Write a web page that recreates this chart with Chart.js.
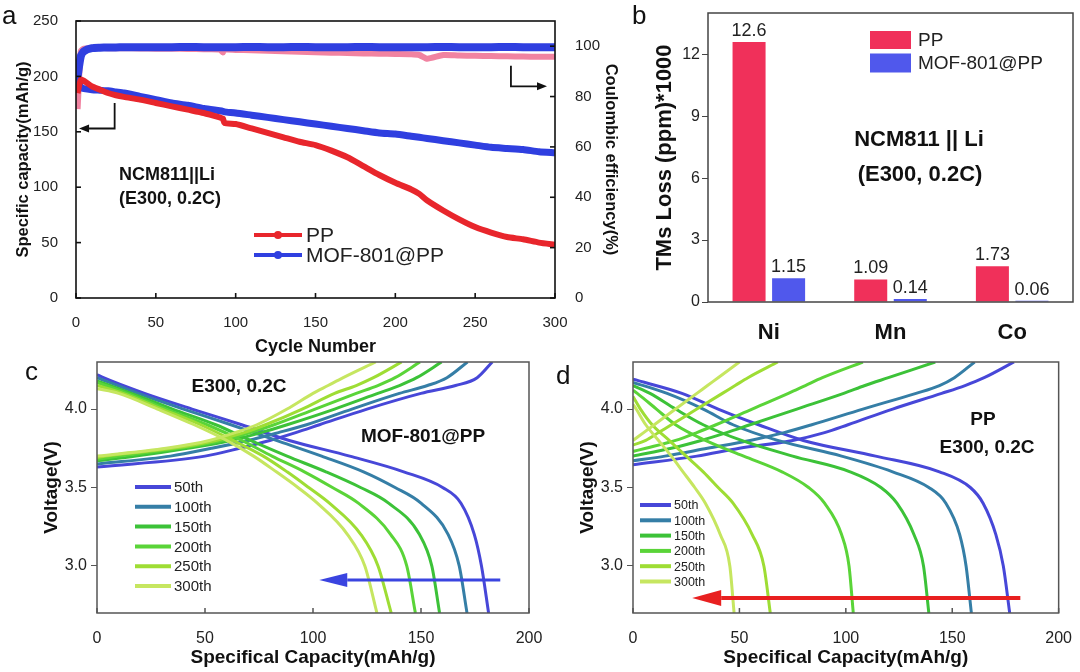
<!DOCTYPE html>
<html>
<head>
<meta charset="utf-8">
<script src="https://cdn.jsdelivr.net/npm/chart.js@4.4.1/dist/chart.umd.min.js"></script>
<style>
body { margin: 0; width: 1080px; height: 672px; background: #fff; position: relative; overflow: hidden; font-family: "Liberation Sans", Arial, sans-serif; }
canvas { position: absolute; }
.tag { position: absolute; font-size: 26px; color: #111; line-height: 1; }
</style>
</head>
<body>
<canvas id="chartA" width="620" height="360" style="left:0;top:0"></canvas>
<canvas id="chartB" width="460" height="340" style="left:620px;top:0"></canvas>
<canvas id="chartC" width="560" height="332" style="left:0;top:340px"></canvas>
<canvas id="chartD" width="520" height="332" style="left:560px;top:340px"></canvas>
<div class="tag" style="left:2px;top:2px">a</div>
<div class="tag" style="left:632px;top:2px">b</div>
<div class="tag" style="left:25px;top:358px">c</div>
<div class="tag" style="left:556px;top:362px">d</div>
<script>
//Panel a - cycling data
const cycles = [1, 3, 5, 10, 15, 20, 25, 30, 40, 50, 60, 70, 80, 90, 92, 93, 100, 110, 120, 130, 140, 150, 160, 170, 180, 190, 200, 210, 215, 220, 230, 240, 250, 260, 270, 280, 290, 300];
const ppCapacity = [185, 197, 196, 191, 188, 185, 183, 181.5, 179, 176, 173, 170, 167, 163, 162, 158, 157, 153, 149, 145, 141, 138, 133, 127, 119, 111, 104, 98, 94, 88, 79, 71, 64, 59, 55, 53, 50, 48];
const mofCapacity = [200, 190, 189, 188, 187.5, 187, 186, 185, 182, 179, 176, 174, 171, 169, 168.5, 168, 167, 165, 163, 161, 159, 157, 155, 153, 151, 149, 148, 146, 145, 144, 142, 140, 138, 136, 135, 134, 132, 131];
const ppEfficiency = [75, 98, 99, 99.3, 99.3, 99.2, 99.2, 99.2, 99.1, 99, 99, 98.9, 98.8, 98.7, 97.5, 98.6, 98.5, 98.4, 98.2, 98, 97.8, 97.6, 97.4, 97.3, 97.1, 97, 96.9, 96.8, 96.5, 95, 96.5, 96.3, 96.2, 96.1, 96, 95.9, 95.8, 95.8];
const mofEfficiency = [88, 96, 98, 99.2, 99.4, 99.5, 99.5, 99.6, 99.6, 99.6, 99.6, 99.7, 99.6, 99.6, 99.6, 99.6, 99.6, 99.7, 99.6, 99.6, 99.7, 99.6, 99.6, 99.6, 99.7, 99.6, 99.6, 99.6, 99.6, 99.6, 99.7, 99.6, 99.6, 99.6, 99.7, 99.6, 99.6, 99.6];

//Panel b - transition metal loss
const metals = ['Ni', 'Mn', 'Co'];
const ppLoss = [12.6, 1.09, 1.73];
const mofLoss = [1.15, 0.14, 0.06];

//Panels c and d - voltage profiles, capacity (mAh/g) at each voltage level
const cycleLabels = ['50th', '100th', '150th', '200th', '250th', '300th'];
const dischargeLevels = [4.2, 4.1, 4.0, 3.9, 3.8, 3.7, 3.6, 3.5, 3.4, 3.2, 3.0, 2.7];
const chargeLevels = [3.7, 3.75, 3.8, 3.85, 3.9, 4.0, 4.1, 4.15, 4.2, 4.3];

const mofDisStart = [4.22, 4.20, 4.18, 4.17, 4.15, 4.13];
const mofDis50 = [3, 22, 44, 67, 89, 117, 142, 160, 168.5, 174.7, 178, 181.3];
const mofDis100 = [null, 19, 40, 62, 83, 104, 123.4, 138, 150, 162.6, 167.7, 171.3];
const mofDis150 = [null, 16, 35, 55, 71, 88, 106, 122, 135, 149.3, 155, 158.6];
const mofDis200 = [null, 14, 32, 51, 67, 81, 96, 109, 121, 136, 143.4, 147.4];
const mofDis250 = [null, 12, 30, 48, 63, 77, 88, 98, 107.6, 122.2, 130.1, 136.2];
const mofDis300 = [null, 10, 28, 45, 60, 72.5, 83, 93, 102, 116, 124, 129.6];
const mofChgStart = [3.63, 3.65, 3.67, 3.68, 3.69, 3.70];
const mofChg50 = [50, 66, 80, 92, 103, 125, 150, 166, 176, 183];
const mofChg100 = [34, 53, 70, 84, 97, 118, 140, 153, 162, 171.5];
const mofChg150 = [18, 42, 62, 76, 88, 110, 130, 140, 148, 159.5];
const mofChg200 = [10, 38, 58, 71, 82, 101, 120, 130, 138, 149.5];
const mofChg250 = [4, 35, 55, 68, 78, 95, 110, 120, 128, 141];
const mofChg300 = [null, 32, 52, 64, 74, 88, 100, 107, 114, 129];

const ppDisStart = [4.19, 4.17, 4.15, 4.12, 4.08, 4.03];
const ppDis50 = [null, 23, 40, 59, 80, 114, 144, 158.5, 164.5, 170.5, 174, 177];
const ppDis100 = [null, 16, 33, 47, 68, 98, 122, 139, 147, 153.5, 156.5, 159];
const ppDis150 = [null, 8, 20, 33, 51, 75, 102, 116.5, 124, 132, 136.5, 139];
const ppDis200 = [null, 2, 11, 20, 34, 52, 70, 82.5, 90, 98, 101.5, 103.5];
const ppDis250 = [null, null, 3.5, 9, 17, 25, 33, 40, 47, 56, 61.5, 64.5];
const ppDis300 = [null, null, 1.5, 6, 12, 18, 23.5, 29, 34, 41, 45.5, 47.5];
const ppChgStart = [3.645, 3.67, 3.70, 3.73, 3.77, 3.80];
const ppChg50 = [30, 50, 75, 90, 101, 122, 145, 156, 165, 179];
const ppChg100 = [15, 35, 55, 71, 84, 108, 133, 144, 151, 160.5];
const ppChg150 = [null, 18, 32, 44, 55, 77, 99, 109, 120, 142];
const ppChg200 = [null, 6, 20, 30, 39, 56, 73, 81, 89, 108];
const ppChg250 = [null, null, 6, 12, 18, 30, 42, 48, 54, 68];
const ppChg300 = [null, null, null, 5, 10, 20, 30, 35, 40, 50];

const cycleColors = ['#4747d8', '#357ea6', '#3cc238', '#5ad438', '#9edd34', '#c6e660'];
const FONT = '"Liberation Sans", Arial, sans-serif';

Chart.defaults.font.family = FONT;
Chart.defaults.color = '#222';
Chart.defaults.animation = false;

//x/y pairs for a line
const pairs = (xs, ys) => xs.map((x, i) => ({ x: x, y: ys[i] }));

//voltage curve: starts at 0 capacity, then one point per voltage level
function curve(startV, levels, caps) {
    const pts = [{ x: 0, y: startV }];
    levels.forEach((v, i) => {
        if (caps[i] != null) pts.push({ x: caps[i], y: v });
    });
    return pts;
}

//box round the plot + inward tick marks
const frame = {
    id: 'frame',
    afterDatasetsDraw(chart, args, opts) {
        const { ctx, chartArea: a } = chart;
        ctx.save();
        ctx.strokeStyle = opts.color || '#111';
        ctx.lineWidth = opts.width || 1.5;
        ctx.strokeRect(a.left, a.top, a.right - a.left, a.bottom - a.top);
        (opts.inner || []).forEach(id => {
            const s = chart.scales[id];
            s.ticks.forEach((t, i) => {
                const p = s.getPixelForTick(i);
                ctx.beginPath();
                if (s.isHorizontal()) { ctx.moveTo(p, a.bottom); ctx.lineTo(p, a.bottom - 5); }
                else if (s.position === 'left') { ctx.moveTo(a.left, p); ctx.lineTo(a.left + 5, p); }
                else { ctx.moveTo(a.right, p); ctx.lineTo(a.right - 5, p); }
                ctx.stroke();
            });
        });
        ctx.restore();
    }
};

//texts, legends, arrows and bar labels
const notes = {
    id: 'notes',
    afterDraw(chart, args, opts) {
        const ctx = chart.ctx;
        ctx.save();
        ctx.textBaseline = 'middle';
        (opts.texts || []).forEach(t => {
            ctx.font = t.font;
            ctx.fillStyle = t.color || '#111';
            ctx.textAlign = t.align || 'center';
            ctx.fillText(t.text, t.x, t.y);
        });
        (opts.legend || []).forEach(l => {
            ctx.strokeStyle = l.color;
            ctx.fillStyle = l.color;
            if (l.box) {
                ctx.fillRect(l.x1, l.y - l.box / 2, l.x2 - l.x1, l.box);
            } else {
                ctx.lineWidth = l.width || 3;
                ctx.beginPath();
                ctx.moveTo(l.x1, l.y);
                ctx.lineTo(l.x2, l.y);
                ctx.stroke();
                if (l.marker) {
                    ctx.beginPath();
                    ctx.arc((l.x1 + l.x2) / 2, l.y, l.marker, 0, Math.PI * 2);
                    ctx.fill();
                }
            }
            ctx.font = l.font;
            ctx.fillStyle = '#222';
            ctx.textAlign = 'left';
            ctx.fillText(l.text, l.x2 + (l.gap || 4), l.y + 1);
        });
        (opts.arrows || []).forEach(ar => {
            const sx = chart.scales[ar.x || 'x'], sy = chart.scales[ar.y || 'y'];
            const p = ar.pts.map(q => [sx.getPixelForValue(q[0]), sy.getPixelForValue(q[1])]);
            const tip = p[p.length - 1], prev = p[p.length - 2];
            const len = Math.hypot(tip[0] - prev[0], tip[1] - prev[1]);
            const dx = (tip[0] - prev[0]) / len, dy = (tip[1] - prev[1]) / len;
            const base = [tip[0] - dx * ar.head, tip[1] - dy * ar.head];
            ctx.strokeStyle = ar.color;
            ctx.fillStyle = ar.color;
            ctx.lineWidth = ar.width;
            ctx.beginPath();
            p.slice(0, -1).forEach((q, i) => i ? ctx.lineTo(q[0], q[1]) : ctx.moveTo(q[0], q[1]));
            ctx.lineTo(base[0], base[1]);
            ctx.stroke();
            ctx.beginPath();
            ctx.moveTo(tip[0], tip[1]);
            ctx.lineTo(base[0] - dy * ar.half, base[1] + dx * ar.half);
            ctx.lineTo(base[0] + dy * ar.half, base[1] - dx * ar.half);
            ctx.closePath();
            ctx.fill();
        });
        if (opts.barLabels) {
            ctx.font = opts.barLabels;
            ctx.fillStyle = '#222';
            ctx.textAlign = 'center';
            ctx.textBaseline = 'bottom';
            chart.data.datasets.forEach((ds, i) => {
                chart.getDatasetMeta(i).data.forEach((bar, j) => {
                    ctx.fillText(String(ds.data[j]), bar.x, bar.y - 2);
                });
            });
        }
        ctx.restore();
    }
};

//Panel a
new Chart(document.getElementById('chartA'), {
    type: 'line',
    data: {
        datasets: [
            { label: 'PP', data: pairs(cycles, ppCapacity), yAxisID: 'y', borderColor: '#e8262c', borderWidth: 6, pointRadius: 0, tension: 0.2, order: 1 },
            { label: 'MOF-801@PP', data: pairs(cycles, mofCapacity), yAxisID: 'y', borderColor: '#2f3fe0', borderWidth: 7, pointRadius: 0, tension: 0.2, order: 2 },
            { label: 'PP CE', data: pairs(cycles, ppEfficiency), yAxisID: 'y2', borderColor: 'rgba(236,90,130,0.75)', borderWidth: 6, pointRadius: 0, tension: 0.2, order: 4 },
            { label: 'MOF-801@PP CE', data: pairs(cycles, mofEfficiency), yAxisID: 'y2', borderColor: '#2f3fe0', borderWidth: 8, pointRadius: 0, tension: 0.2, order: 3 }
        ]
    },
    options: {
        responsive: false,
        layout: { padding: { top: 14 } },
        plugins: {
            legend: { display: false },
            tooltip: { enabled: false },
            frame: { color: '#111', width: 1.6, inner: ['x', 'y', 'y2'] },
            notes: {
                texts: [
                    { text: 'NCM811||Li', x: 119, y: 175, font: 'bold 18px ' + FONT, align: 'left' },
                    { text: '(E300, 0.2C)', x: 119, y: 199, font: 'bold 18px ' + FONT, align: 'left' }
                ],
                legend: [
                    { x1: 254, x2: 302, y: 235, color: '#e8262c', width: 4, marker: 4, text: 'PP', font: '21px ' + FONT },
                    { x1: 254, x2: 302, y: 255, color: '#2f3fe0', width: 4, marker: 4, text: 'MOF-801@PP', font: '21px ' + FONT }
                ],
                arrows: [
                    { pts: [[24.2, 176], [24.2, 153], [1.9, 153]], color: '#111', width: 1.8, head: 10, half: 4 },
                    { pts: [[272.4, 209.5], [272.4, 191], [295, 191]], color: '#111', width: 1.8, head: 10, half: 4 }
                ]
            }
        },
        scales: {
            x: {
                type: 'linear', min: 0, max: 300,
                ticks: { stepSize: 50, padding: 8, font: { size: 15 } },
                grid: { display: false }, border: { display: false },
                title: { display: true, text: 'Cycle Number', font: { size: 18, weight: 'bold' }, color: '#111', padding: { bottom: 2 } },
                afterFit: s => { s.height = 62; }
            },
            y: {
                position: 'left', min: 0, max: 250,
                ticks: { stepSize: 50, padding: 10, font: { size: 15 } },
                grid: { display: false }, border: { display: false },
                title: { display: true, text: 'Specific capacity(mAh/g)', font: { size: 16.5, weight: 'bold' }, color: '#111', padding: { top: 14 } },
                afterFit: s => { s.width = 76; }
            },
            y2: {
                position: 'right', min: 0, max: 110,
                ticks: { stepSize: 20, includeBounds: false, padding: 12, font: { size: 15 } },
                grid: { display: false }, border: { display: false },
                title: { display: true, text: 'Coulombic efficiency(%)', font: { size: 16.5, weight: 'bold' }, color: '#111', padding: { top: 0 } },
                afterFit: s => { s.width = 65; }
            }
        }
    },
    plugins: [frame, notes]
});

//Panel b
new Chart(document.getElementById('chartB'), {
    type: 'bar',
    data: {
        labels: metals,
        datasets: [
            { label: 'PP', data: ppLoss, backgroundColor: '#f0305a' },
            { label: 'MOF-801@PP', data: mofLoss, backgroundColor: '#5058ec' }
        ]
    },
    options: {
        responsive: false,
        categoryPercentage: 0.65,
        barPercentage: 0.835,
        layout: { padding: { top: 13, right: 7 } },
        plugins: {
            legend: { display: false },
            tooltip: { enabled: false },
            frame: { color: '#444', width: 1.5 },
            notes: {
                barLabels: '18px ' + FONT,
                texts: [
                    { text: 'NCM811 || Li', x: 299, y: 140, font: 'bold 22px ' + FONT },
                    { text: '(E300, 0.2C)', x: 300, y: 175, font: 'bold 22px ' + FONT }
                ],
                legend: [
                    { x1: 250, x2: 291, y: 40, box: 18, color: '#f0305a', text: 'PP', font: '19px ' + FONT, gap: 7 },
                    { x1: 250, x2: 291, y: 63, box: 19, color: '#5058ec', text: 'MOF-801@PP', font: '19px ' + FONT, gap: 7 }
                ]
            }
        },
        scales: {
            x: {
                grid: { display: false }, border: { display: false },
                ticks: { font: { size: 22, weight: 'bold' }, color: '#111', padding: 10 },
                afterFit: s => { s.height = 38; }
            },
            y: {
                min: 0, max: 14,
                ticks: { stepSize: 3, includeBounds: false, padding: 2, font: { size: 16 } },
                grid: { drawOnChartArea: false, tickLength: 6, color: '#444' }, border: { display: false },
                title: { display: true, text: 'TMs Loss (ppm)*1000', font: { size: 22, weight: 'bold' }, color: '#111', padding: { top: 32 } },
                afterFit: s => { s.width = 88; }
            }
        }
    },
    plugins: [frame, notes]
});

//Panels c and d
function voltageChart(id, disStart, dis, chgStart, chg, opt) {
    const datasets = [];
    cycleLabels.forEach((lab, i) => {
        const common = { borderColor: cycleColors[i], borderWidth: 3, pointRadius: 0, cubicInterpolationMode: 'monotone', order: cycleLabels.length - i };
        datasets.push(Object.assign({ label: lab + ' discharge', data: curve(disStart[i], dischargeLevels, dis[i]) }, common));
        datasets.push(Object.assign({ label: lab + ' charge', data: curve(chgStart[i], chargeLevels, chg[i]) }, common));
    });
    const legend = cycleLabels.map((lab, i) => ({
        x1: opt.legendX1, x2: opt.legendX2, y: opt.legendY + i * opt.legendStep,
        color: cycleColors[i], width: 4, text: lab, font: opt.legendFont, gap: 3
    }));
    return new Chart(document.getElementById(id), {
        type: 'line',
        data: { datasets: datasets },
        options: {
            responsive: false,
            layout: { padding: { top: 22, right: opt.padRight } },
            plugins: {
                legend: { display: false },
                tooltip: { enabled: false },
                frame: { color: '#555', width: 1.5, inner: ['x'] },
                notes: { texts: opt.texts, legend: legend, arrows: [opt.arrow] }
            },
            scales: {
                x: {
                    type: 'linear', min: 0, max: 200,
                    ticks: { stepSize: 50, padding: 8, font: { size: 16 } },
                    grid: { display: false }, border: { display: false },
                    title: { display: true, text: 'Specifical Capacity(mAh/g)', font: { size: 19, weight: 'bold' }, color: '#111', padding: { bottom: 3 } },
                    afterFit: s => { s.height = 59; }
                },
                y: {
                    min: 2.7, max: 4.3,
                    ticks: { stepSize: 0.5, includeBounds: false, padding: 4, font: { size: 16 }, callback: v => v.toFixed(1) },
                    grid: { drawOnChartArea: false, tickLength: 6, color: '#555' }, border: { display: false },
                    title: { display: true, text: 'Voltage(V)', font: { size: 19, weight: 'bold' }, color: '#111', padding: { top: opt.titlePad } },
                    afterFit: s => { s.width = opt.yWidth; }
                }
            }
        },
        plugins: [frame, notes]
    });
}

voltageChart('chartC', mofDisStart, [mofDis50, mofDis100, mofDis150, mofDis200, mofDis250, mofDis300],
    mofChgStart, [mofChg50, mofChg100, mofChg150, mofChg200, mofChg250, mofChg300], {
    yWidth: 97, padRight: 31, titlePad: 40,
    texts: [
        { text: 'E300, 0.2C', x: 239, y: 47, font: 'bold 19px ' + FONT },
        { text: 'MOF-801@PP', x: 423, y: 97, font: 'bold 19px ' + FONT }
    ],
    legendX1: 135, legendX2: 171, legendY: 147, legendStep: 19.8, legendFont: '15px ' + FONT,
    arrow: { pts: [[186.7, 2.911], [102.9, 2.911]], color: '#3a44e0', width: 3, head: 28, half: 7 }
});

voltageChart('chartD', ppDisStart, [ppDis50, ppDis100, ppDis150, ppDis200, ppDis250, ppDis300],
    ppChgStart, [ppChg50, ppChg100, ppChg150, ppChg200, ppChg250, ppChg300], {
    yWidth: 73, padRight: 16, titlePad: 16,
    texts: [
        { text: 'PP', x: 423, y: 80, font: 'bold 19px ' + FONT },
        { text: 'E300, 0.2C', x: 427, y: 108, font: 'bold 19px ' + FONT }
    ],
    legendX1: 80, legendX2: 111, legendY: 165, legendStep: 15.3, legendFont: '12.5px ' + FONT,
    arrow: { pts: [[182, 2.795], [27.8, 2.795]], color: '#e82020', width: 4, head: 29, half: 8 }
});
</script>
</body>
</html>
